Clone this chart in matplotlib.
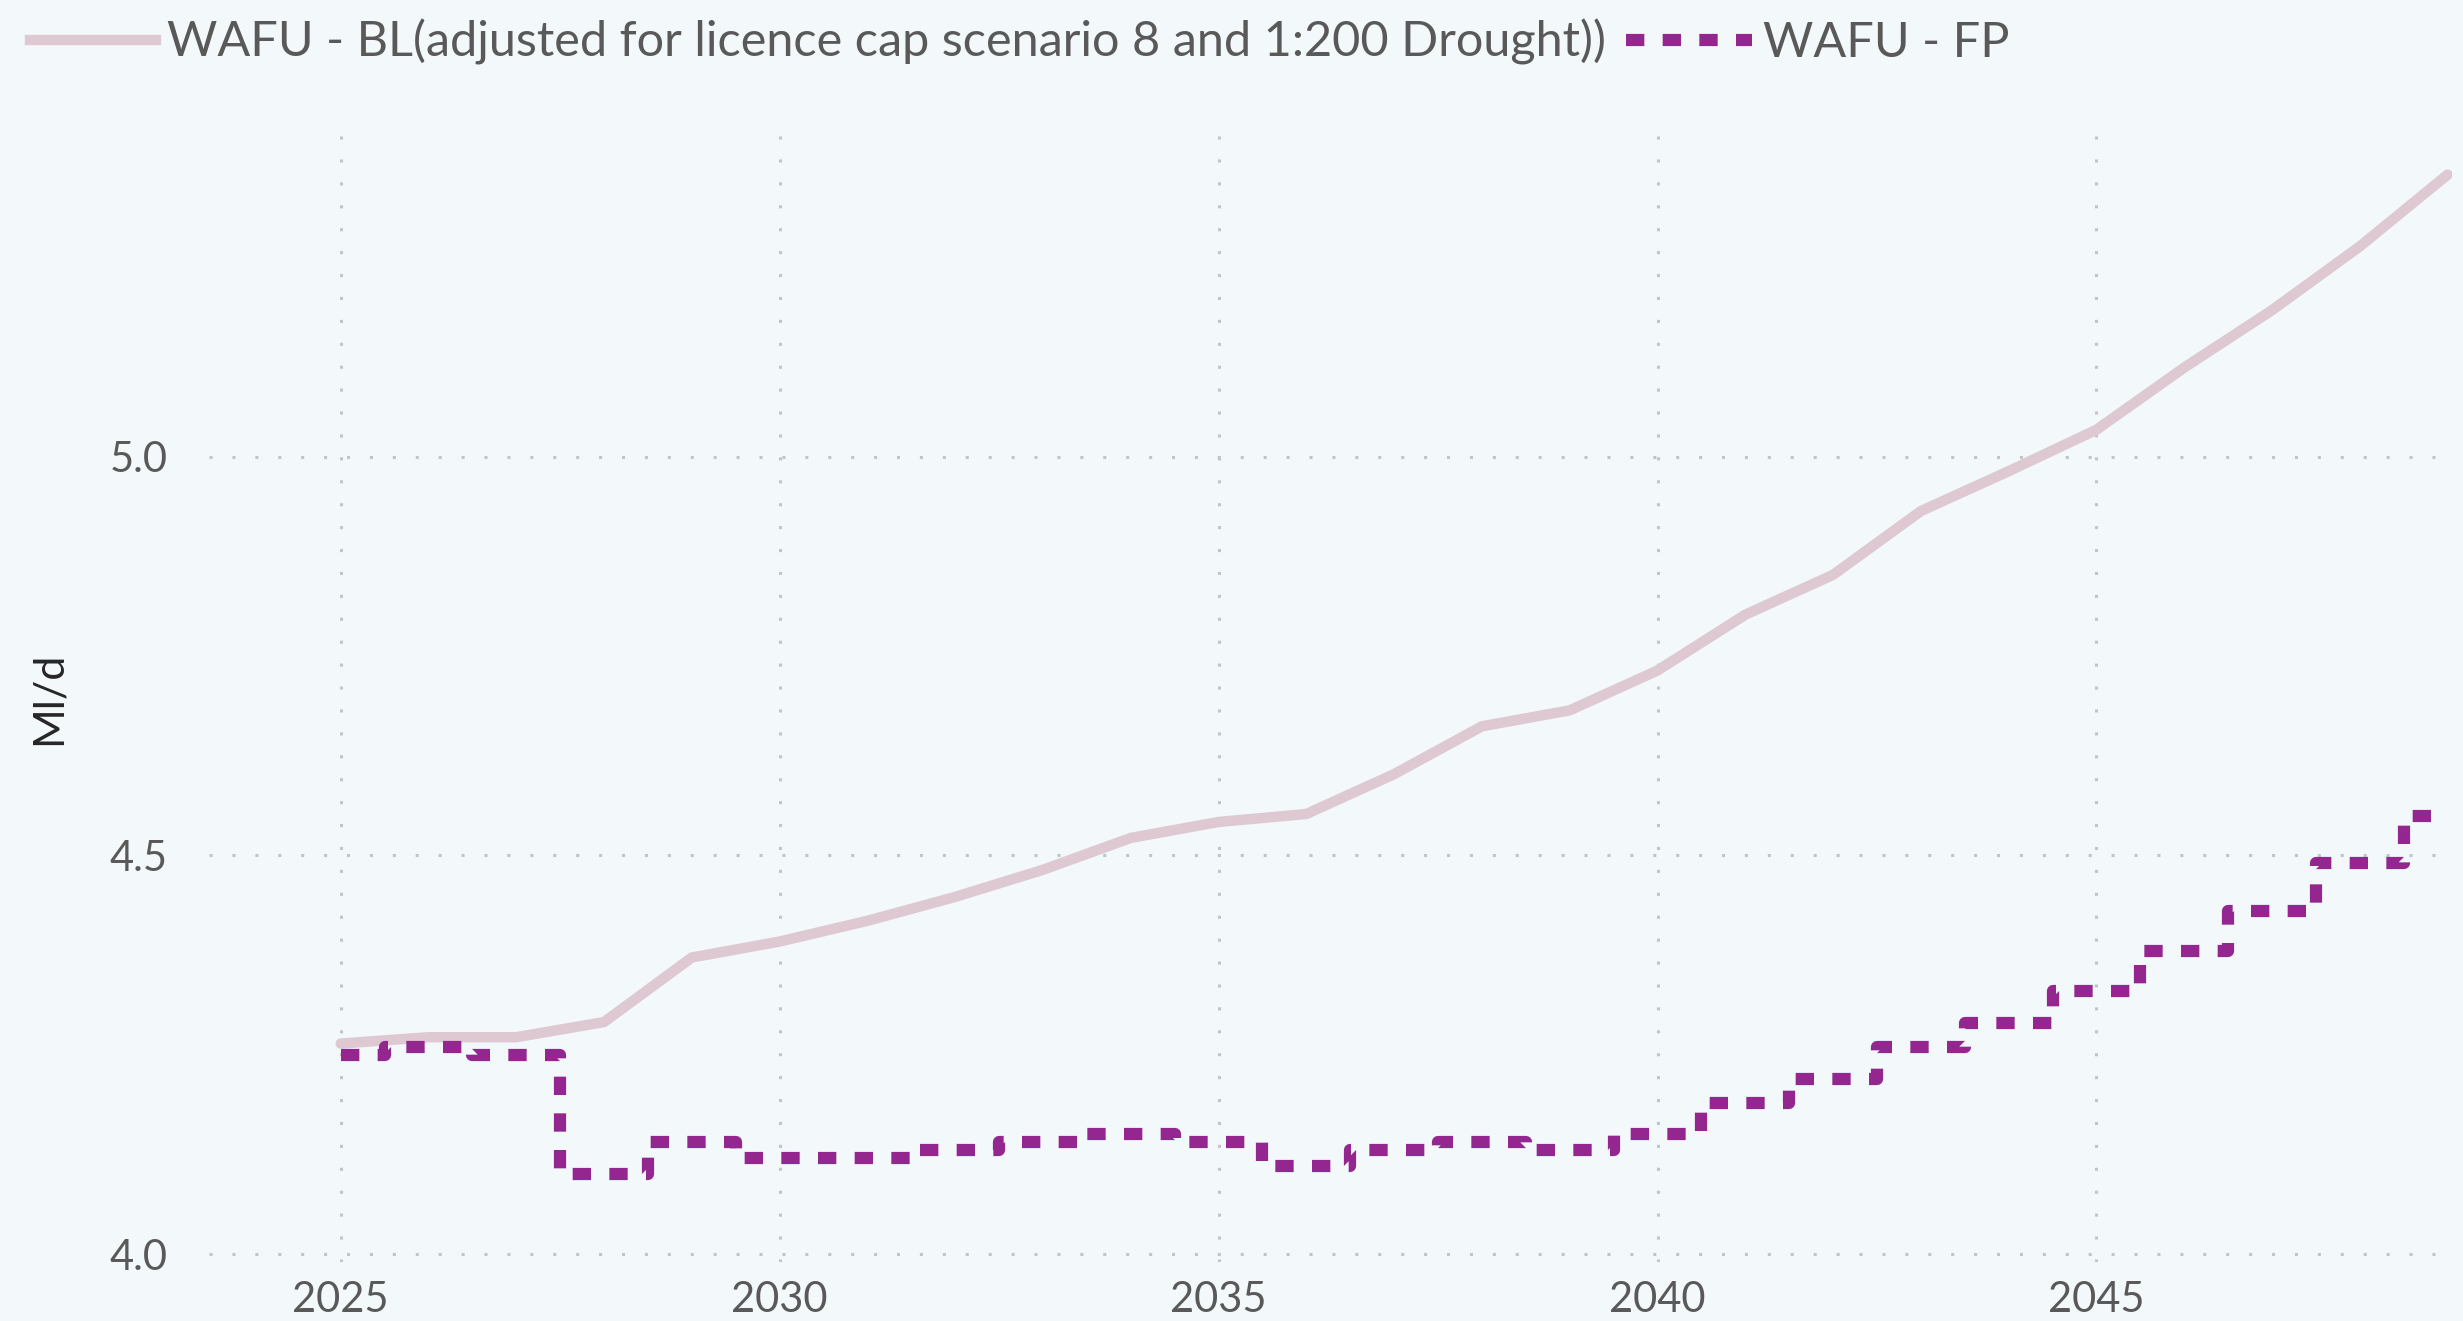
import matplotlib
matplotlib.use("Agg")
import matplotlib.pyplot as plt
from matplotlib.lines import Line2D

years = list(range(2025, 2050))
bl_values = [4.264, 4.272, 4.272, 4.291, 4.372, 4.392, 4.418, 4.448, 4.482, 4.522,
             4.542, 4.552, 4.602, 4.662, 4.682, 4.732, 4.802, 4.852, 4.932, 4.982,
             5.034, 5.112, 5.184, 5.264, 5.354]
fp_values = [4.25, 4.26, 4.25, 4.10, 4.14, 4.12, 4.12, 4.13, 4.14, 4.15,
             4.14, 4.11, 4.13, 4.14, 4.13, 4.15, 4.19, 4.22, 4.26, 4.29,
             4.33, 4.38, 4.43, 4.49, 4.55]
xticks = [2025, 2030, 2035, 2040, 2045]
yticks = [4.0, 4.5, 5.0]
labels = ["WAFU - BL(adjusted for licence cap scenario 8 and 1:200 Drought))", "WAFU - FP"]

BG = "#f3f8fb"
PINK = "#dec8d2"
PURPLE = "#93278f"
GRAY = "#595959"

plt.rcParams['font.family'] = ['Lato', 'DejaVu Sans']

fig = plt.figure(figsize=(24.63, 13.21), dpi=100, facecolor=BG)
ax = fig.add_axes([209/2463, 1 - 1262/1321, (2452-209)/2463, (1262-134)/1321])
ax.set_facecolor(BG)

ax.plot(years, bl_values, color=PINK, lw=7.5, solid_capstyle='round', solid_joinstyle='round', zorder=3)
ax.step(years, fp_values, where='mid', color=PURPLE, lw=8.8, linestyle=(0, (1.5, 1.5)),
        dash_capstyle='butt', zorder=4)

ax.set_xlim(2023.5, 2049.05)
ax.set_ylim(3.99, 5.405)
ax.set_xticks(xticks)
ax.set_yticks(yticks)
ax.set_yticklabels([f"{v:.1f}" for v in yticks])
ax.tick_params(axis='both', length=0, labelsize=30, colors=GRAY)
ax.tick_params(axis='x', pad=14)
ax.tick_params(axis='y', pad=30)
for s in ax.spines.values():
    s.set_visible(False)
ax.grid(True, color="#c4c4c4", lw=2.2, linestyle=(0, (1, 6.5)))
ax.set_axisbelow(True)

ax.set_ylabel("Ml/d", fontsize=31, color="#262626", labelpad=30)

handles = [Line2D([], [], color=PINK, lw=7.5),
           Line2D([], [], color=PURPLE, lw=8.8, linestyle=(0, (1.5, 1.5)))]
fig.legend(handles, labels, loc='center left', bbox_to_anchor=(30/2463, 1 - 42/1321),
           ncol=2, frameon=False, fontsize=35, labelcolor=GRAY,
           handlelength=2.6, handletextpad=0.22, columnspacing=0.4, borderaxespad=0,
           borderpad=0)

fig.savefig("out.png", dpi=100, facecolor=BG)
